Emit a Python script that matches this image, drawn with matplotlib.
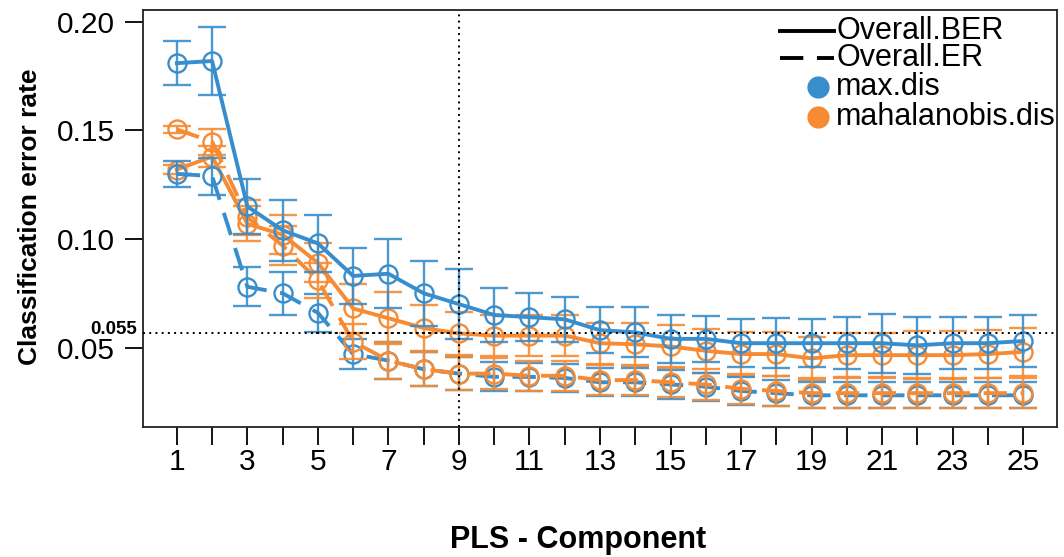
import matplotlib
matplotlib.use("Agg")
import matplotlib.pyplot as plt
from matplotlib.lines import Line2D
from matplotlib.transforms import blended_transform_factory, offset_copy

plt.rcParams['font.family'] = ['Liberation Sans', 'DejaVu Sans']

# ---------------- data ----------------
components = list(range(1, 26))
xtick_labels = [str(c) if c % 2 == 1 else "" for c in components]
yticks = [0.05, 0.10, 0.15, 0.20]
ytick_labels = ["0.05", "0.10", "0.15", "0.20"]

max_ber = [0.181, 0.182, 0.115, 0.104, 0.098, 0.083, 0.084, 0.075, 0.070, 0.065,
           0.064, 0.063, 0.058, 0.057, 0.054, 0.054, 0.052, 0.052, 0.052, 0.052,
           0.052, 0.051, 0.052, 0.052, 0.053]
max_ber_sd = [0.010, 0.0155, 0.0125, 0.014, 0.013, 0.013, 0.016, 0.015, 0.016, 0.0125,
              0.011, 0.0105, 0.0105, 0.0115, 0.011, 0.0105, 0.011, 0.0115, 0.011, 0.012,
              0.0135, 0.013, 0.012, 0.012, 0.012]

max_er = [0.130, 0.129, 0.078, 0.075, 0.066, 0.047, 0.044, 0.040, 0.038, 0.0365,
          0.0365, 0.036, 0.034, 0.034, 0.033, 0.032, 0.030, 0.029, 0.028, 0.028,
          0.028, 0.028, 0.028, 0.028, 0.028]
max_er_sd = [0.006, 0.0085, 0.009, 0.0098, 0.0088, 0.007, 0.0085, 0.0078, 0.0077, 0.0067,
             0.0065, 0.0065, 0.0065, 0.0065, 0.0065, 0.0065, 0.0065, 0.006, 0.006, 0.006,
             0.006, 0.006, 0.006, 0.006, 0.006]

mahal_ber = [0.132, 0.138, 0.107, 0.102, 0.089, 0.068, 0.0635, 0.059, 0.0565, 0.0555,
             0.0555, 0.0555, 0.052, 0.0515, 0.0505, 0.0485, 0.047, 0.047, 0.045, 0.0465,
             0.0465, 0.0465, 0.0465, 0.047, 0.048]
mahal_ber_sd = [0.002, 0.005, 0.008, 0.009, 0.009, 0.0115, 0.012, 0.0105, 0.010, 0.0095,
                0.0095, 0.0095, 0.0095, 0.010, 0.010, 0.010, 0.010, 0.010, 0.010, 0.010,
                0.010, 0.011, 0.011, 0.011, 0.011]

mahal_er = [0.1505, 0.1448, 0.110, 0.097, 0.081, 0.0527, 0.044, 0.040, 0.038, 0.038,
            0.037, 0.037, 0.035, 0.035, 0.034, 0.033, 0.031, 0.030, 0.029, 0.029,
            0.029, 0.029, 0.029, 0.029, 0.029]
mahal_er_sd = [0.0015, 0.006, 0.008, 0.009, 0.008, 0.008, 0.0085, 0.0078, 0.0077, 0.007,
               0.007, 0.007, 0.007, 0.007, 0.007, 0.007, 0.007, 0.007, 0.007, 0.007,
               0.007, 0.007, 0.007, 0.007, 0.007]

threshold_value = 0.0565
threshold_label = "0.055"
selected_comp = 9

legend_labels = ["Overall.BER", "Overall.ER", "max.dis", "mahalanobis.dis"]

BLUE = "#388ECC"
ORANGE = "#F68B33"

# ---------------- figure ----------------
W, H = 1064, 557
fig = plt.figure(figsize=(W / 100, H / 100), dpi=100)
ax = fig.add_axes([143 / W, 1 - 427 / H, (1057 - 143) / W, (427 - 10) / H])

DASH = (0, (6, 3.5))


def series(y, sd, color, ls, z):
    ax.errorbar(components, y, yerr=sd, fmt='none', ecolor=color, elinewidth=1.7,
                capsize=10, capthick=1.7, alpha=0.9, zorder=z)
    ax.plot(components, y, color=color, ls=ls, lw=2.8, marker='o', ms=13,
            mfc='none', mec=color, mew=1.7, zorder=z + 0.5)


series(mahal_ber, mahal_ber_sd, ORANGE, '-', 2)
series(max_er, max_er_sd, BLUE, DASH, 3)
series(mahal_er, mahal_er_sd, ORANGE, DASH, 4)
series(max_ber, max_ber_sd, BLUE, '-', 5)

DOT = (0, (1, 2.2))
ax.axhline(threshold_value, color='black', ls=DOT, lw=1.4, zorder=6)
ax.plot([4.85, selected_comp], [threshold_value, threshold_value], color='black',
        ls=(1.6, (1, 2.2)), lw=1.4, zorder=6)
ax.axvline(selected_comp, color='black', ls=DOT, lw=1.4, zorder=6)

ax.set_xlim(0.04, 25.96)
ax.set_ylim(0.0134, 0.2055)
ax.set_xticks(components)
ax.set_xticklabels(xtick_labels)
ax.set_yticks(yticks)
ax.set_yticklabels(ytick_labels)
ax.tick_params(axis='both', direction='out', length=13, width=1.3, labelsize=21.5,
               colors='black')
ax.tick_params(axis='x', pad=2)
ax.tick_params(axis='y', pad=7)
for sp in ax.spines.values():
    sp.set_linewidth(1.3)
    sp.set_color('#222222')

trans = offset_copy(blended_transform_factory(ax.transAxes, ax.transData),
                    fig=fig, x=0, y=2.5, units='points')
ax.text(-0.007, threshold_value, threshold_label, transform=trans, ha='right',
        va='center', fontsize=13.5, fontweight='bold')

fig.text(30 / W, 1 - 217 / H, "Classification error rate", rotation=90,
         ha='center', va='center', fontsize=19, fontweight='bold')
fig.text(578 / W, 1 - 540 / H, "PLS - Component", ha='center', va='center',
         fontsize=22, fontweight='bold')


# ---------------- legend (manual) ----------------
def fx(px):
    return px / W


def fy(py):
    return 1 - py / H


ys = [31, 58, 87, 117]
fig.add_artist(Line2D([fx(780), fx(834)], [fy(ys[0])] * 2, color='black', lw=2.8))
fig.add_artist(Line2D([fx(780), fx(834)], [fy(ys[1])] * 2, color='black', lw=2.8,
                      ls=(0, (6, 3.5))))
fig.add_artist(Line2D([fx(818)], [fy(ys[2])], marker='o', ms=15, color=BLUE, ls='none'))
fig.add_artist(Line2D([fx(818)], [fy(ys[3])], marker='o', ms=15, color=ORANGE, ls='none'))
for yy, lab in zip(ys, legend_labels):
    fig.text(fx(836), fy(yy), lab, ha='left', va='center', fontsize=22)

fig.savefig("out.png", dpi=100)
